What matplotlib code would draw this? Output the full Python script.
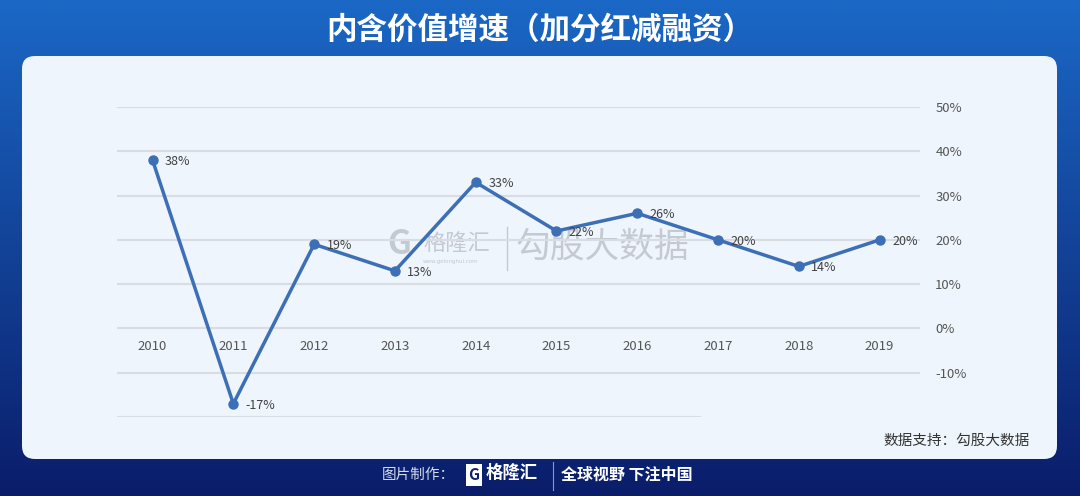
import numpy as np
import matplotlib
matplotlib.use("Agg")
import matplotlib.pyplot as plt
from matplotlib.patches import FancyBboxPatch, Rectangle

plt.rcParams['font.family'] = ['Noto Sans CJK SC', 'DejaVu Sans']

# data
years = ['2010', '2011', '2012', '2013', '2014', '2015', '2016', '2017', '2018', '2019']
growth = [38, -17, 19, 13, 33, 22, 26, 20, 14, 20]
yticks = [-10, 0, 10, 20, 30, 40, 50]

title = '内含价值增速（加分红减融资）'
source = '数据支持：勾股大数据'

W, H = 1080, 496
fig = plt.figure(figsize=(W / 100, H / 100), dpi=100)

# blue gradient background
bg = fig.add_axes([0, 0, 1, 1])
grad = np.linspace(0, 1, 256).reshape(-1, 1)
top = np.array([0x1b, 0x68, 0xc6]) / 255
bot = np.array([0x0a, 0x1d, 0x6a]) / 255
img = top + (bot - top) * grad[:, :, None]
bg.imshow(img, aspect='auto', extent=[0, 1, 0, 1], origin='upper')
bg.set_xlim(0, 1)
bg.set_ylim(0, 1)
bg.axis('off')

# light panel
panel = FancyBboxPatch((22 / W, 1 - 459 / H), (1057 - 22) / W, (459 - 56) / H,
                       boxstyle='round,pad=0,rounding_size=0.012',
                       transform=bg.transAxes, facecolor='#eef5fc',
                       edgecolor='none', mutation_aspect=W / H)
bg.add_patch(panel)

bg.text(0.5, 1 - 30 / H, title, color='white', fontsize=22, fontweight='bold',
        ha='center', va='center')
bg.text(1030 / W, 1 - 441 / H, source, color='#333333', fontsize=10.5,
        ha='right', va='center')

# watermark
wm = '#c5c9d1'
bg.text(399 / W, 1 - 245 / H, 'G', color=wm, fontsize=24, fontweight='bold',
        ha='center', va='center')
bg.text(423 / W, 1 - 243 / H, '格隆汇', color=wm, fontsize=16,
        ha='left', va='center')
bg.text(423 / W, 1 - 262 / H, 'www.gelonghui.com', color=wm, fontsize=4,
        ha='left', va='center', family='DejaVu Sans')
bg.plot([507 / W, 507 / W], [1 - 227 / H, 1 - 270 / H], color=wm, lw=1)
bg.text(516 / W, 1 - 247 / H, '勾股大数据', color=wm, fontsize=25,
        ha='left', va='center')

# footer
bg.text(455 / W, 1 - 475 / H, '图片制作：', color='#d5dcec', fontsize=10.5,
        ha='right', va='center')
bg.add_patch(Rectangle((466 / W, 1 - 486 / H), 16 / W, 22 / H,
                       transform=bg.transAxes, facecolor='white', edgecolor='none'))
bg.text(474 / W, 1 - 475 / H, 'G', color='#0d2070', fontsize=11, fontweight='bold',
        ha='center', va='center')
bg.text(486 / W, 1 - 473 / H, '格隆汇', color='white', fontsize=12.5, fontweight='bold',
        ha='left', va='center')
bg.plot([553 / W, 553 / W], [1 - 462 / H, 1 - 490 / H], color='#8a98c4', lw=0.8)
bg.text(561 / W, 1 - 475 / H, '全球视野 下注中国', color='white', fontsize=11.5,
        fontweight='bold', ha='left', va='center')

# chart
ax = fig.add_axes([117 / W, 1 - 417 / H, (920 - 117) / W, (417 - 107) / H])
ax.set_facecolor('none')
x = np.arange(len(years))
ax.set_xlim(-0.44, 9.5)
ax.set_ylim(-20, 50)

for v in yticks:
    ax.axhline(v, color='#d9dde3', lw=1.5, zorder=1)
ax.axhline(-20, xmax=0.726, color='#d9dde3', lw=1.5, zorder=1)

ax.plot(x, growth, color='#3d6fb6', lw=2.5, marker='o', markersize=6.5, zorder=3)

for xi, v in zip(x, growth):
    ax.annotate(f'{v}%', (xi, v), xytext=(9, -1), textcoords='offset points',
                ha='left', va='center', fontsize=9, color='#404040', zorder=4)

for xi, yr in zip(x, years):
    ax.text(xi, -4.1, yr, ha='center', va='center', fontsize=9.5, color='#555555')

ax.yaxis.tick_right()
ax.set_yticks(yticks)
ax.set_yticklabels([f'{v}%' for v in yticks], fontsize=9.5, color='#555555')
ax.tick_params(axis='y', length=0, pad=11)
ax.set_xticks([])
for s in ax.spines.values():
    s.set_visible(False)

fig.savefig('out.png', dpi=100)
